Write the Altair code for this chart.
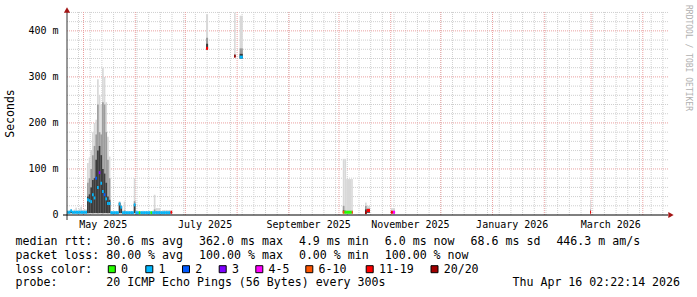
import altair as alt
import pandas as pd

MONO = "DejaVu Sans Mono"
W, H = 601, 203          # plot area in pixels
LEFT, TOP = 67, 12       # plot area origin on the page
SPAN = 360.0             # days shown on the x axis
YMAX = 441.0             # ms at the top of the plot

START = pd.Timestamp("2025-04-21 02:22:14")

# ---------------- data (ms, one bucket per day from START) ----------------
dense_med = ([6, 6, 9, 6, 6, 6, 6, 6, 6, 6, 6, 6]
             + [33, 31, 29, 44, 37, 80, 60, 92, 69, 51, 44, 35, 25, 25]
             + [5, 5, 5, 5, 5, 24, 17, 5, 5, 5, 5, 5, 5, 5, 22]
             + [5, 5, 5, 5, 5, 5, 5, 5, 5, 5, 5, 5, 5, 5, 5, 5, 5, 5, 5, 5, 5, 6])
dense_hi = ([8, 10, 13, 9, 12, 16, 10, 14, 18, 11, 13, 12]
            + [113, 125, 140, 180, 200, 207, 295, 260, 240, 320, 300, 245, 170, 127]
            + [9, 8, 8, 9, 8, 30, 22, 9, 29, 8, 9, 8, 9, 8, 80]
            + [10, 8, 9, 8, 9, 8, 9, 8, 9, 8, 9, 44, 15, 15, 15, 9, 11, 11, 11, 11, 11, 8])
dense_mid = ([7, 7, 10, 7, 8, 8, 7, 8, 9, 7, 8, 8]
             + [70, 80, 100, 130, 150, 175, 240, 180, 175, 245, 240, 180, 120, 80]
             + [6, 6, 6, 6, 6, 28, 20, 6, 10, 6, 6, 6, 6, 6, 30]
             + [6, 6, 6, 6, 6, 6, 6, 6, 6, 6, 6, 12, 8, 8, 8, 6, 7, 7, 7, 7, 7, 6])
dense_dark = ([6, 6, 9, 6, 6, 6, 6, 6, 6, 6, 6, 6]
              + [40, 45, 60, 76, 80, 120, 140, 150, 130, 100, 90, 70, 40, 33]
              + [5, 5, 5, 5, 5, 26, 19, 5, 5, 5, 5, 5, 5, 5, 24]
              + [5, 5, 5, 5, 5, 5, 5, 5, 5, 5, 5, 5, 5, 5, 5, 5, 5, 5, 5, 5, 5, 6])
dense_lo = [4] * 63
dense_loss = (["1"] * 17 + ["2", "1", "3", "1", "1", "2"] + ["1"] * 20 + ["0"]
              + ["1"] * 6 + ["0"] + ["1"] * 11 + ["11-19"])

# isolated events later in the year (day offsets from START)
sp_t0 = [83.3, 100.1, 103.4, 165.2, 166.2, 167.2, 170.6, 178.5, 179.5, 194.0, 195.2, 313.3]
sp_t1 = [84.5, 101.0, 105.3, 166.2, 167.2, 170.6, 171.2, 179.5, 181.5, 195.2, 196.5, 313.8]
sp_med = [362, 345, 343, 6, 6, 6, 6, 5, 10, 6, 6, 6]
sp_lo = [360, 343, 340, 4, 4, 4, 4, 3, 5, 4, 4, 4]
sp_dark = [372, 347, 350, 10, 6, 6, 6, 12, 12, 7, 7, 8]
sp_mid = [385, 350, 362, 20, 10, 9, 9, 20, 14, 9, 9, 12]
sp_hi = [436, 440, 433, 122, 122, 78, 78, 27, 20, 15, 15, 33]
sp_loss = ["11-19", "20/20", "1", "6-10", "0", "0", "6-10", "20/20", "11-19",
           "11-19", "4-5", "11-19"]

LOSS_LABELS = ["0", "1", "2", "3", "4-5", "6-10", "11-19", "20/20"]
LOSS_COLORS = ["#26ff00", "#00b8ff", "#0059ff", "#7e00ff", "#ff00ff",
               "#ff5500", "#ff0000", "#a10000"]

month_label_text = ["May 2025", "July 2025", "September 2025",
                    "November 2025", "January 2026", "March 2026"]
month_label_start = ["2025-05-01", "2025-07-01", "2025-09-01",
                     "2025-11-01", "2026-01-01", "2026-03-01"]
y_tick_values = [0, 100, 200, 300, 400]
y_tick_text = ["0\u00a0\u00a0", "100\u00a0m", "200\u00a0m", "300\u00a0m", "400\u00a0m"]

# legend lines, one string per printed item
row1_items = ["median rtt:  30.6 ms avg", "362.0 ms max", "4.9 ms min",
              "6.0 ms now", "68.6 ms sd", "446.3 m am/s"]
row2_items = ["packet loss: 80.00 % avg", "100.00 % max", "0.00 % min", "100.00 % now"]
row3 = "loss color:"
row4 = "probe:       20 ICMP Echo Pings (56 Bytes) every 300s"
stamp = "Thu Apr 16 02:22:14 2026"

# layout of the legend (page pixels)
FS = 11.6                 # legend font size
ADV = FS * 0.602          # monospace advance
ITEM_GAP = 16.0           # space between printed items
LEG_X = 15.5
ROW_Y = [245.0, 258.8, 272.6, 286.4]
LEGEND_BOX_CX = [111.8, 149.3, 186.0, 222.7, 259.3, 309.3, 369.7, 434.5]

# ---------------- tables ----------------
def day_of(ts):
    return (pd.Timestamp(ts) - START) / pd.Timedelta(days=1)

n = len(dense_med)
df = pd.DataFrame({
    "t0": list(range(n)) + sp_t0,
    "t1": [d + 1 for d in range(n)] + sp_t1,
    "med": dense_med + sp_med,
    "lo": dense_lo + sp_lo,
    "dark": dense_dark + sp_dark,
    "mid": dense_mid + sp_mid,
    "hi": dense_hi + sp_hi,
    "loss": dense_loss + sp_loss,
})

week_lines = pd.DataFrame({"d": [day_of(t) for t in pd.date_range("2025-04-28", "2026-04-13", freq="7D")]})
month_lines = pd.DataFrame({"d": [day_of(t) for t in pd.date_range("2025-05-01", "2026-04-01", freq="MS")]})
minor_y = pd.DataFrame({"v": [v for v in range(20, 441, 20) if v % 100]})
major_y = pd.DataFrame({"v": [100, 200, 300, 400]})
xlab = pd.DataFrame({"d": [day_of(s) + 11.8 for s in month_label_start], "t": month_label_text})
ylab = pd.DataFrame({"v": y_tick_values, "t": y_tick_text})

xs = alt.Scale(domain=[0, SPAN], nice=False, zero=False)
ys = alt.Scale(domain=[0, YMAX], nice=False, zero=False)
one = pd.DataFrame({"k": [0]})


def X(field):
    return alt.X(field, type="quantitative", scale=xs, axis=None)


def Y(field):
    return alt.Y(field, type="quantitative", scale=ys, axis=None)


def text_at(s, x, y, size, align="left", baseline="alphabetic", color="#000000", angle=None):
    kw = dict(text=s.replace(" ", "\u00a0"), align=align, baseline=baseline,
              font=MONO, fontSize=size, color=color)
    if angle is not None:
        kw["angle"] = angle
    return alt.Chart(one).mark_text(**kw).encode(x=alt.value(x - LEFT), y=alt.value(y - TOP))


def item_row(items, y):
    out, x = [], LEG_X
    for s in items:
        out.append(text_at(s, x, y, FS))
        x += len(s) * ADV + ITEM_GAP
    return out


layers = []
# grid
layers.append(alt.Chart(week_lines).mark_rule(color="#cfcfcf", strokeDash=[1, 1]).encode(
    x=X("d"), y=alt.value(0), y2=alt.value(H)))
layers.append(alt.Chart(minor_y).mark_rule(color="#cfcfcf", strokeDash=[1, 1]).encode(
    y=Y("v"), x=alt.value(0), x2=alt.value(W)))
layers.append(alt.Chart(month_lines).mark_rule(color="#eaa0a0", strokeDash=[1, 1]).encode(
    x=X("d"), y=alt.value(0), y2=alt.value(H)))
layers.append(alt.Chart(major_y).mark_rule(color="#eaa0a0", strokeDash=[1, 1]).encode(
    y=Y("v"), x=alt.value(0), x2=alt.value(W)))

# smoke
for top, shade in (("hi", "#d8d8d8"), ("mid", "#9c9c9c"), ("dark", "#3c3c3c")):
    layers.append(alt.Chart(df).mark_rect(color=shade).encode(
        x=X("t0"), x2="t1", y=Y("lo"), y2=top))

# median coloured by loss
layers.append(alt.Chart(df).mark_rule(strokeWidth=3).encode(
    x=X("t0"), x2="t1", y=Y("med"),
    color=alt.Color("loss:N", scale=alt.Scale(domain=LOSS_LABELS, range=LOSS_COLORS), legend=None)))

# axes
layers.append(alt.Chart(one).mark_rule(color="#333333").encode(
    x=alt.value(0), y=alt.value(0), y2=alt.value(H + 5)))
layers.append(alt.Chart(one).mark_rule(color="#000000").encode(
    x=alt.value(-4), x2=alt.value(W), y=alt.value(H)))
layers.append(alt.Chart(one).mark_point(shape="triangle-up", filled=True, color="#a31515",
                                        size=38, opacity=1).encode(
    x=alt.value(0), y=alt.value(-2)))
layers.append(alt.Chart(one).mark_point(shape="triangle-right", filled=True, color="#a31515",
                                        size=38, opacity=1).encode(
    x=alt.value(W + 3), y=alt.value(H)))

# axis labels
layers.append(alt.Chart(xlab).mark_text(font=MONO, fontSize=10, align="center",
                                        baseline="alphabetic", color="#000000").encode(
    x=X("d"), y=alt.value(228.3 - TOP), text="t:N"))
layers.append(alt.Chart(ylab).mark_text(font=MONO, fontSize=10, align="right",
                                        baseline="middle", color="#000000").encode(
    y=Y("v"), x=alt.value(58.5 - LEFT), text="t:N"))
layers.append(text_at("Seconds", 11, 113.5, 11.5, align="center", baseline="middle", angle=270))
layers.append(text_at("RRDTOOL / TOBI OETIKER", 687.5, 5, 8, align="left",
                      baseline="middle", color="#b0b0b0", angle=90))

# legend text
layers += item_row(row1_items, ROW_Y[0])
layers += item_row(row2_items, ROW_Y[1])
layers.append(text_at(row3, LEG_X, ROW_Y[2], FS))
layers.append(text_at(row4, LEG_X, ROW_Y[3], FS))
layers.append(text_at(stamp, 512.5, ROW_Y[3], FS))
for lab, col, cx in zip(LOSS_LABELS, LOSS_COLORS, LEGEND_BOX_CX):
    layers.append(alt.Chart(one).mark_square(fill=col, stroke="#000000", strokeWidth=1,
                                             size=49, opacity=1).encode(
        x=alt.value(cx - LEFT), y=alt.value(ROW_Y[2] - 3.4 - TOP)))
    layers.append(text_at(lab, cx + 9.2, ROW_Y[2], FS))

chart = alt.layer(*layers).properties(
    width=W, height=H,
    padding={"left": LEFT, "top": TOP, "right": 697 - LEFT - W, "bottom": 297 - TOP - H},
    autosize=alt.AutoSizeParams(type="none"),
).configure_view(stroke=None)

chart.save("out.html", embed_options={"renderer": "svg", "actions": False})
